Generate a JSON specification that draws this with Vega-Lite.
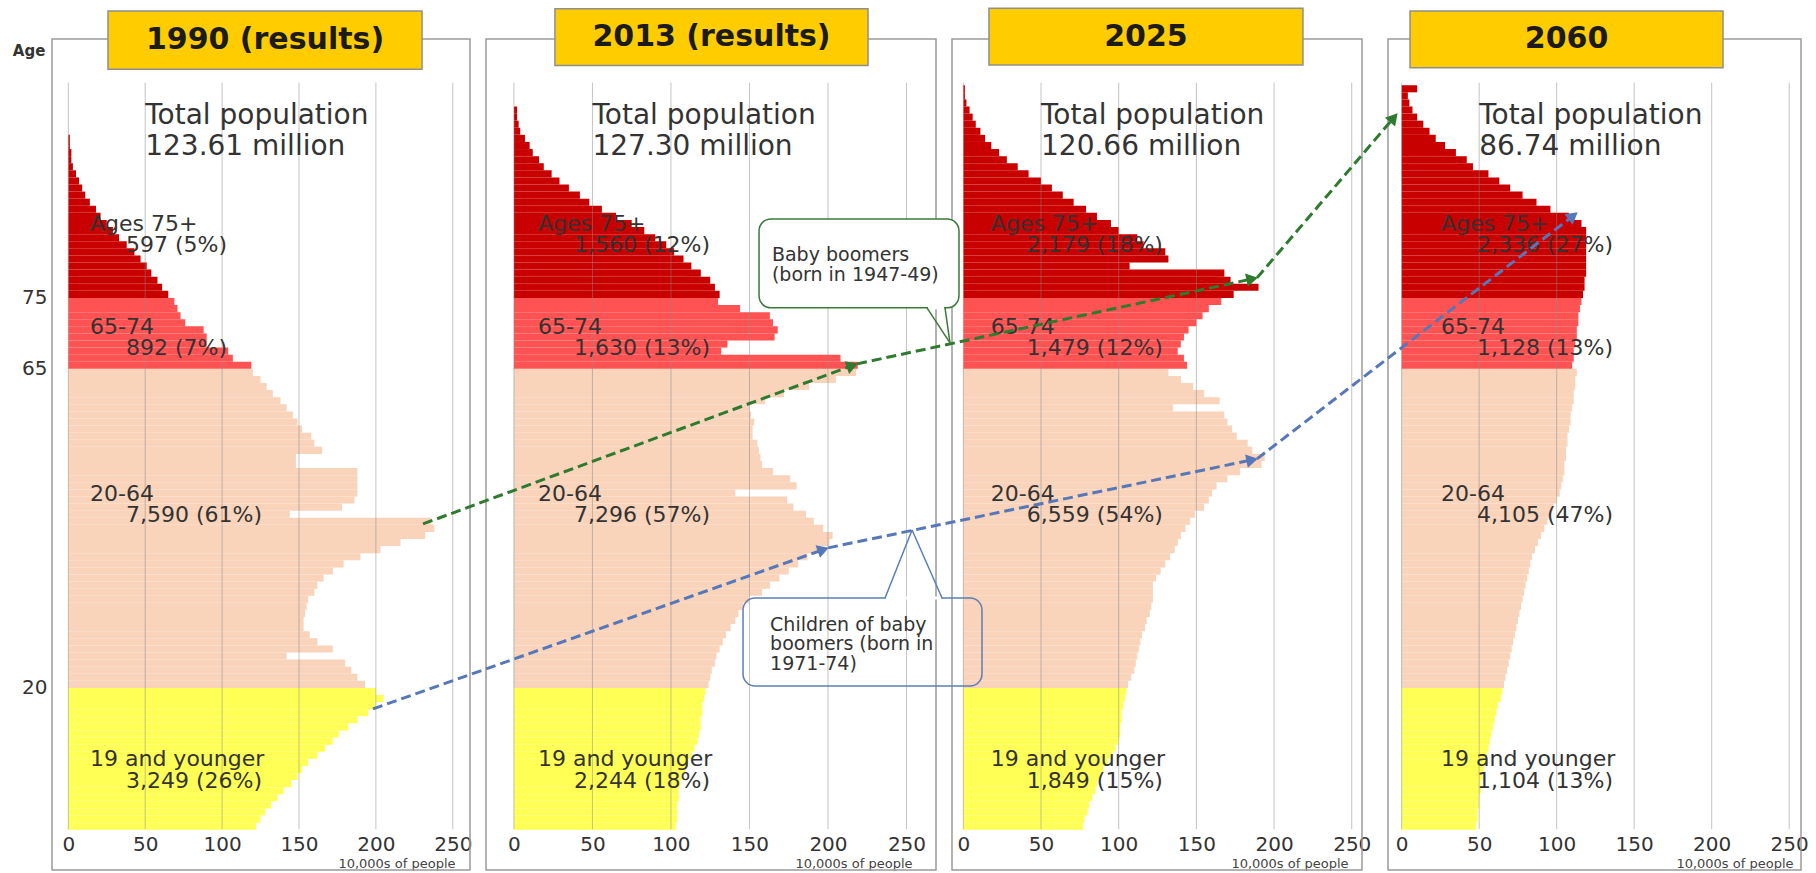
{
"$schema":"https://vega.github.io/schema/vega-lite/v6.json",
"background":"white",
"padding":{"left":12,"top":7,"right":4,"bottom":2},
"config":{"font":"DejaVu Sans","view":{"stroke":null},"axisY":{"labels":false,"ticks":false,"domain":false,"grid":false,"title":null},"axisX":{"grid":false,"ticks":false,"domain":false}},
"datasets":{
"d1990":[
{"age":0,"pop":122,"grp":"0-19"},{"age":1,"pop":125,"grp":"0-19"},{"age":2,"pop":128,"grp":"0-19"},{"age":3,"pop":132,"grp":"0-19"},{"age":4,"pop":136,"grp":"0-19"},{"age":5,"pop":140,"grp":"0-19"},{"age":6,"pop":145,"grp":"0-19"},{"age":7,"pop":149,"grp":"0-19"},{"age":8,"pop":152,"grp":"0-19"},{"age":9,"pop":156,"grp":"0-19"},{"age":10,"pop":162,"grp":"0-19"},{"age":11,"pop":167,"grp":"0-19"},{"age":12,"pop":172,"grp":"0-19"},{"age":13,"pop":176,"grp":"0-19"},{"age":14,"pop":182,"grp":"0-19"},{"age":15,"pop":188,"grp":"0-19"},{"age":16,"pop":195,"grp":"0-19"},{"age":17,"pop":200,"grp":"0-19"},{"age":18,"pop":205,"grp":"0-19"},{"age":19,"pop":200,"grp":"0-19"},
{"age":20,"pop":193,"grp":"20-64"},{"age":21,"pop":188,"grp":"20-64"},{"age":22,"pop":184,"grp":"20-64"},{"age":23,"pop":180,"grp":"20-64"},{"age":24,"pop":142,"grp":"20-64"},{"age":25,"pop":172,"grp":"20-64"},{"age":26,"pop":162,"grp":"20-64"},{"age":27,"pop":157,"grp":"20-64"},{"age":28,"pop":153,"grp":"20-64"},{"age":29,"pop":153,"grp":"20-64"},{"age":30,"pop":154,"grp":"20-64"},{"age":31,"pop":155,"grp":"20-64"},{"age":32,"pop":156,"grp":"20-64"},{"age":33,"pop":160,"grp":"20-64"},{"age":34,"pop":162,"grp":"20-64"},{"age":35,"pop":166,"grp":"20-64"},{"age":36,"pop":172,"grp":"20-64"},{"age":37,"pop":179,"grp":"20-64"},{"age":38,"pop":190,"grp":"20-64"},{"age":39,"pop":203,"grp":"20-64"},{"age":40,"pop":216,"grp":"20-64"},{"age":41,"pop":232,"grp":"20-64"},{"age":42,"pop":238,"grp":"20-64"},{"age":43,"pop":236,"grp":"20-64"},{"age":44,"pop":144,"grp":"20-64"},{"age":45,"pop":178,"grp":"20-64"},{"age":46,"pop":186,"grp":"20-64"},{"age":47,"pop":188,"grp":"20-64"},{"age":48,"pop":188,"grp":"20-64"},{"age":49,"pop":188,"grp":"20-64"},{"age":50,"pop":188,"grp":"20-64"},{"age":51,"pop":148,"grp":"20-64"},{"age":52,"pop":148,"grp":"20-64"},{"age":53,"pop":165,"grp":"20-64"},{"age":54,"pop":160,"grp":"20-64"},{"age":55,"pop":158,"grp":"20-64"},{"age":56,"pop":152,"grp":"20-64"},{"age":57,"pop":149,"grp":"20-64"},{"age":58,"pop":146,"grp":"20-64"},{"age":59,"pop":142,"grp":"20-64"},{"age":60,"pop":138,"grp":"20-64"},{"age":61,"pop":133,"grp":"20-64"},{"age":62,"pop":129,"grp":"20-64"},{"age":63,"pop":125,"grp":"20-64"},{"age":64,"pop":120,"grp":"20-64"},
{"age":65,"pop":119,"grp":"65-74"},{"age":66,"pop":107,"grp":"65-74"},{"age":67,"pop":104,"grp":"65-74"},{"age":68,"pop":90,"grp":"65-74"},{"age":69,"pop":90,"grp":"65-74"},{"age":70,"pop":88,"grp":"65-74"},{"age":71,"pop":76,"grp":"65-74"},{"age":72,"pop":73,"grp":"65-74"},{"age":73,"pop":71,"grp":"65-74"},{"age":74,"pop":69,"grp":"65-74"},
{"age":75,"pop":65,"grp":"75+"},{"age":76,"pop":61,"grp":"75+"},{"age":77,"pop":58,"grp":"75+"},{"age":78,"pop":54,"grp":"75+"},{"age":79,"pop":51,"grp":"75+"},{"age":80,"pop":47,"grp":"75+"},{"age":81,"pop":43,"grp":"75+"},{"age":82,"pop":38,"grp":"75+"},{"age":83,"pop":33,"grp":"75+"},{"age":84,"pop":29,"grp":"75+"},{"age":85,"pop":25,"grp":"75+"},{"age":86,"pop":21,"grp":"75+"},{"age":87,"pop":18,"grp":"75+"},{"age":88,"pop":14,"grp":"75+"},{"age":89,"pop":11,"grp":"75+"},{"age":90,"pop":9,"grp":"75+"},{"age":91,"pop":7,"grp":"75+"},{"age":92,"pop":5,"grp":"75+"},{"age":93,"pop":3,"grp":"75+"},{"age":94,"pop":2,"grp":"75+"},{"age":95,"pop":2,"grp":"75+"},{"age":96,"pop":1,"grp":"75+"},{"age":97,"pop":1,"grp":"75+"}
],
"d2013":[
{"age":0,"pop":103,"grp":"0-19"},{"age":1,"pop":104,"grp":"0-19"},{"age":2,"pop":104,"grp":"0-19"},{"age":3,"pop":104,"grp":"0-19"},{"age":4,"pop":105,"grp":"0-19"},{"age":5,"pop":105,"grp":"0-19"},{"age":6,"pop":106,"grp":"0-19"},{"age":7,"pop":107,"grp":"0-19"},{"age":8,"pop":109,"grp":"0-19"},{"age":9,"pop":111,"grp":"0-19"},{"age":10,"pop":113,"grp":"0-19"},{"age":11,"pop":115,"grp":"0-19"},{"age":12,"pop":117,"grp":"0-19"},{"age":13,"pop":118,"grp":"0-19"},{"age":14,"pop":119,"grp":"0-19"},{"age":15,"pop":119,"grp":"0-19"},{"age":16,"pop":120,"grp":"0-19"},{"age":17,"pop":120,"grp":"0-19"},{"age":18,"pop":121,"grp":"0-19"},{"age":19,"pop":122,"grp":"0-19"},
{"age":20,"pop":124,"grp":"20-64"},{"age":21,"pop":125,"grp":"20-64"},{"age":22,"pop":126,"grp":"20-64"},{"age":23,"pop":128,"grp":"20-64"},{"age":24,"pop":129,"grp":"20-64"},{"age":25,"pop":131,"grp":"20-64"},{"age":26,"pop":133,"grp":"20-64"},{"age":27,"pop":135,"grp":"20-64"},{"age":28,"pop":138,"grp":"20-64"},{"age":29,"pop":141,"grp":"20-64"},{"age":30,"pop":143,"grp":"20-64"},{"age":31,"pop":146,"grp":"20-64"},{"age":32,"pop":150,"grp":"20-64"},{"age":33,"pop":158,"grp":"20-64"},{"age":34,"pop":163,"grp":"20-64"},{"age":35,"pop":169,"grp":"20-64"},{"age":36,"pop":175,"grp":"20-64"},{"age":37,"pop":181,"grp":"20-64"},{"age":38,"pop":187,"grp":"20-64"},{"age":39,"pop":195,"grp":"20-64"},{"age":40,"pop":201,"grp":"20-64"},{"age":41,"pop":203,"grp":"20-64"},{"age":42,"pop":197,"grp":"20-64"},{"age":43,"pop":191,"grp":"20-64"},{"age":44,"pop":186,"grp":"20-64"},{"age":45,"pop":178,"grp":"20-64"},{"age":46,"pop":174,"grp":"20-64"},{"age":47,"pop":141,"grp":"20-64"},{"age":48,"pop":180,"grp":"20-64"},{"age":49,"pop":176,"grp":"20-64"},{"age":50,"pop":165,"grp":"20-64"},{"age":51,"pop":158,"grp":"20-64"},{"age":52,"pop":157,"grp":"20-64"},{"age":53,"pop":156,"grp":"20-64"},{"age":54,"pop":155,"grp":"20-64"},{"age":55,"pop":152,"grp":"20-64"},{"age":56,"pop":152,"grp":"20-64"},{"age":57,"pop":153,"grp":"20-64"},{"age":58,"pop":151,"grp":"20-64"},{"age":59,"pop":150,"grp":"20-64"},{"age":60,"pop":160,"grp":"20-64"},{"age":61,"pop":172,"grp":"20-64"},{"age":62,"pop":188,"grp":"20-64"},{"age":63,"pop":205,"grp":"20-64"},{"age":64,"pop":218,"grp":"20-64"},
{"age":65,"pop":219,"grp":"65-74"},{"age":66,"pop":208,"grp":"65-74"},{"age":67,"pop":132,"grp":"65-74"},{"age":68,"pop":136,"grp":"65-74"},{"age":69,"pop":166,"grp":"65-74"},{"age":70,"pop":168,"grp":"65-74"},{"age":71,"pop":165,"grp":"65-74"},{"age":72,"pop":163,"grp":"65-74"},{"age":73,"pop":144,"grp":"65-74"},{"age":74,"pop":130,"grp":"65-74"},
{"age":75,"pop":131,"grp":"75+"},{"age":76,"pop":128,"grp":"75+"},{"age":77,"pop":125,"grp":"75+"},{"age":78,"pop":119,"grp":"75+"},{"age":79,"pop":113,"grp":"75+"},{"age":80,"pop":108,"grp":"75+"},{"age":81,"pop":102,"grp":"75+"},{"age":82,"pop":97,"grp":"75+"},{"age":83,"pop":90,"grp":"75+"},{"age":84,"pop":83,"grp":"75+"},{"age":85,"pop":75,"grp":"75+"},{"age":86,"pop":65,"grp":"75+"},{"age":87,"pop":56,"grp":"75+"},{"age":88,"pop":48,"grp":"75+"},{"age":89,"pop":42,"grp":"75+"},{"age":90,"pop":35,"grp":"75+"},{"age":91,"pop":29,"grp":"75+"},{"age":92,"pop":24,"grp":"75+"},{"age":93,"pop":19,"grp":"75+"},{"age":94,"pop":16,"grp":"75+"},{"age":95,"pop":12,"grp":"75+"},{"age":96,"pop":10,"grp":"75+"},{"age":97,"pop":7,"grp":"75+"},{"age":98,"pop":4,"grp":"75+"},{"age":99,"pop":3,"grp":"75+"},{"age":100,"pop":2,"grp":"75+"},{"age":101,"pop":2,"grp":"75+"}
],
"d2025":[
{"age":0,"pop":77,"grp":"0-19"},{"age":1,"pop":78,"grp":"0-19"},{"age":2,"pop":80,"grp":"0-19"},{"age":3,"pop":81,"grp":"0-19"},{"age":4,"pop":83,"grp":"0-19"},{"age":5,"pop":85,"grp":"0-19"},{"age":6,"pop":86,"grp":"0-19"},{"age":7,"pop":88,"grp":"0-19"},{"age":8,"pop":90,"grp":"0-19"},{"age":9,"pop":93,"grp":"0-19"},{"age":10,"pop":96,"grp":"0-19"},{"age":11,"pop":98,"grp":"0-19"},{"age":12,"pop":100,"grp":"0-19"},{"age":13,"pop":101,"grp":"0-19"},{"age":14,"pop":101,"grp":"0-19"},{"age":15,"pop":102,"grp":"0-19"},{"age":16,"pop":102,"grp":"0-19"},{"age":17,"pop":103,"grp":"0-19"},{"age":18,"pop":104,"grp":"0-19"},{"age":19,"pop":105,"grp":"0-19"},
{"age":20,"pop":106,"grp":"20-64"},{"age":21,"pop":108,"grp":"20-64"},{"age":22,"pop":110,"grp":"20-64"},{"age":23,"pop":111,"grp":"20-64"},{"age":24,"pop":112,"grp":"20-64"},{"age":25,"pop":113,"grp":"20-64"},{"age":26,"pop":114,"grp":"20-64"},{"age":27,"pop":115,"grp":"20-64"},{"age":28,"pop":117,"grp":"20-64"},{"age":29,"pop":118,"grp":"20-64"},{"age":30,"pop":120,"grp":"20-64"},{"age":31,"pop":121,"grp":"20-64"},{"age":32,"pop":122,"grp":"20-64"},{"age":33,"pop":122,"grp":"20-64"},{"age":34,"pop":122,"grp":"20-64"},{"age":35,"pop":124,"grp":"20-64"},{"age":36,"pop":127,"grp":"20-64"},{"age":37,"pop":130,"grp":"20-64"},{"age":38,"pop":133,"grp":"20-64"},{"age":39,"pop":136,"grp":"20-64"},{"age":40,"pop":138,"grp":"20-64"},{"age":41,"pop":140,"grp":"20-64"},{"age":42,"pop":143,"grp":"20-64"},{"age":43,"pop":146,"grp":"20-64"},{"age":44,"pop":149,"grp":"20-64"},{"age":45,"pop":155,"grp":"20-64"},{"age":46,"pop":158,"grp":"20-64"},{"age":47,"pop":160,"grp":"20-64"},{"age":48,"pop":163,"grp":"20-64"},{"age":49,"pop":170,"grp":"20-64"},{"age":50,"pop":178,"grp":"20-64"},{"age":51,"pop":192,"grp":"20-64"},{"age":52,"pop":194,"grp":"20-64"},{"age":53,"pop":186,"grp":"20-64"},{"age":54,"pop":183,"grp":"20-64"},{"age":55,"pop":176,"grp":"20-64"},{"age":56,"pop":173,"grp":"20-64"},{"age":57,"pop":170,"grp":"20-64"},{"age":58,"pop":168,"grp":"20-64"},{"age":59,"pop":135,"grp":"20-64"},{"age":60,"pop":165,"grp":"20-64"},{"age":61,"pop":155,"grp":"20-64"},{"age":62,"pop":148,"grp":"20-64"},{"age":63,"pop":140,"grp":"20-64"},{"age":64,"pop":132,"grp":"20-64"},
{"age":65,"pop":144,"grp":"65-74"},{"age":66,"pop":142,"grp":"65-74"},{"age":67,"pop":138,"grp":"65-74"},{"age":68,"pop":140,"grp":"65-74"},{"age":69,"pop":142,"grp":"65-74"},{"age":70,"pop":145,"grp":"65-74"},{"age":71,"pop":150,"grp":"65-74"},{"age":72,"pop":154,"grp":"65-74"},{"age":73,"pop":158,"grp":"65-74"},{"age":74,"pop":166,"grp":"65-74"},
{"age":75,"pop":174,"grp":"75+"},{"age":76,"pop":190,"grp":"75+"},{"age":77,"pop":172,"grp":"75+"},{"age":78,"pop":168,"grp":"75+"},{"age":79,"pop":107,"grp":"75+"},{"age":80,"pop":132,"grp":"75+"},{"age":81,"pop":130,"grp":"75+"},{"age":82,"pop":116,"grp":"75+"},{"age":83,"pop":112,"grp":"75+"},{"age":84,"pop":100,"grp":"75+"},{"age":85,"pop":95,"grp":"75+"},{"age":86,"pop":86,"grp":"75+"},{"age":87,"pop":79,"grp":"75+"},{"age":88,"pop":71,"grp":"75+"},{"age":89,"pop":64,"grp":"75+"},{"age":90,"pop":57,"grp":"75+"},{"age":91,"pop":50,"grp":"75+"},{"age":92,"pop":42,"grp":"75+"},{"age":93,"pop":35,"grp":"75+"},{"age":94,"pop":28,"grp":"75+"},{"age":95,"pop":23,"grp":"75+"},{"age":96,"pop":18,"grp":"75+"},{"age":97,"pop":14,"grp":"75+"},{"age":98,"pop":11,"grp":"75+"},{"age":99,"pop":8,"grp":"75+"},{"age":100,"pop":6,"grp":"75+"},{"age":101,"pop":4,"grp":"75+"},{"age":102,"pop":2,"grp":"75+"},{"age":103,"pop":1,"grp":"75+"},{"age":104,"pop":1,"grp":"75+"}
],
"d2060":[
{"age":0,"pop":48,"grp":"0-19"},{"age":1,"pop":49,"grp":"0-19"},{"age":2,"pop":49,"grp":"0-19"},{"age":3,"pop":50,"grp":"0-19"},{"age":4,"pop":50,"grp":"0-19"},{"age":5,"pop":51,"grp":"0-19"},{"age":6,"pop":51,"grp":"0-19"},{"age":7,"pop":52,"grp":"0-19"},{"age":8,"pop":53,"grp":"0-19"},{"age":9,"pop":54,"grp":"0-19"},{"age":10,"pop":55,"grp":"0-19"},{"age":11,"pop":56,"grp":"0-19"},{"age":12,"pop":57,"grp":"0-19"},{"age":13,"pop":58,"grp":"0-19"},{"age":14,"pop":59,"grp":"0-19"},{"age":15,"pop":60,"grp":"0-19"},{"age":16,"pop":61,"grp":"0-19"},{"age":17,"pop":62,"grp":"0-19"},{"age":18,"pop":64,"grp":"0-19"},{"age":19,"pop":65,"grp":"0-19"},
{"age":20,"pop":66,"grp":"20-64"},{"age":21,"pop":67,"grp":"20-64"},{"age":22,"pop":68,"grp":"20-64"},{"age":23,"pop":69,"grp":"20-64"},{"age":24,"pop":70,"grp":"20-64"},{"age":25,"pop":71,"grp":"20-64"},{"age":26,"pop":72,"grp":"20-64"},{"age":27,"pop":73,"grp":"20-64"},{"age":28,"pop":74,"grp":"20-64"},{"age":29,"pop":75,"grp":"20-64"},{"age":30,"pop":76,"grp":"20-64"},{"age":31,"pop":77,"grp":"20-64"},{"age":32,"pop":78,"grp":"20-64"},{"age":33,"pop":79,"grp":"20-64"},{"age":34,"pop":80,"grp":"20-64"},{"age":35,"pop":81,"grp":"20-64"},{"age":36,"pop":82,"grp":"20-64"},{"age":37,"pop":83,"grp":"20-64"},{"age":38,"pop":84,"grp":"20-64"},{"age":39,"pop":86,"grp":"20-64"},{"age":40,"pop":88,"grp":"20-64"},{"age":41,"pop":90,"grp":"20-64"},{"age":42,"pop":92,"grp":"20-64"},{"age":43,"pop":94,"grp":"20-64"},{"age":44,"pop":96,"grp":"20-64"},{"age":45,"pop":98,"grp":"20-64"},{"age":46,"pop":100,"grp":"20-64"},{"age":47,"pop":102,"grp":"20-64"},{"age":48,"pop":103,"grp":"20-64"},{"age":49,"pop":104,"grp":"20-64"},{"age":50,"pop":105,"grp":"20-64"},{"age":51,"pop":105,"grp":"20-64"},{"age":52,"pop":106,"grp":"20-64"},{"age":53,"pop":106,"grp":"20-64"},{"age":54,"pop":107,"grp":"20-64"},{"age":55,"pop":107,"grp":"20-64"},{"age":56,"pop":108,"grp":"20-64"},{"age":57,"pop":109,"grp":"20-64"},{"age":58,"pop":109,"grp":"20-64"},{"age":59,"pop":110,"grp":"20-64"},{"age":60,"pop":111,"grp":"20-64"},{"age":61,"pop":111,"grp":"20-64"},{"age":62,"pop":112,"grp":"20-64"},{"age":63,"pop":112,"grp":"20-64"},{"age":64,"pop":113,"grp":"20-64"},
{"age":65,"pop":110,"grp":"65-74"},{"age":66,"pop":111,"grp":"65-74"},{"age":67,"pop":111,"grp":"65-74"},{"age":68,"pop":112,"grp":"65-74"},{"age":69,"pop":113,"grp":"65-74"},{"age":70,"pop":113,"grp":"65-74"},{"age":71,"pop":114,"grp":"65-74"},{"age":72,"pop":114,"grp":"65-74"},{"age":73,"pop":115,"grp":"65-74"},{"age":74,"pop":116,"grp":"65-74"},
{"age":75,"pop":117,"grp":"75+"},{"age":76,"pop":118,"grp":"75+"},{"age":77,"pop":118,"grp":"75+"},{"age":78,"pop":119,"grp":"75+"},{"age":79,"pop":119,"grp":"75+"},{"age":80,"pop":119,"grp":"75+"},{"age":81,"pop":119,"grp":"75+"},{"age":82,"pop":119,"grp":"75+"},{"age":83,"pop":119,"grp":"75+"},{"age":84,"pop":119,"grp":"75+"},{"age":85,"pop":116,"grp":"75+"},{"age":86,"pop":108,"grp":"75+"},{"age":87,"pop":96,"grp":"75+"},{"age":88,"pop":87,"grp":"75+"},{"age":89,"pop":78,"grp":"75+"},{"age":90,"pop":70,"grp":"75+"},{"age":91,"pop":63,"grp":"75+"},{"age":92,"pop":56,"grp":"75+"},{"age":93,"pop":46,"grp":"75+"},{"age":94,"pop":42,"grp":"75+"},{"age":95,"pop":35,"grp":"75+"},{"age":96,"pop":28,"grp":"75+"},{"age":97,"pop":22,"grp":"75+"},{"age":98,"pop":18,"grp":"75+"},{"age":99,"pop":14,"grp":"75+"},{"age":100,"pop":10,"grp":"75+"},{"age":101,"pop":7,"grp":"75+"},{"age":102,"pop":5,"grp":"75+"},{"age":103,"pop":4,"grp":"75+"},{"age":104,"pop":10,"grp":"75+"}
],
"ticks":[{"tick":0},{"tick":50},{"tick":100},{"tick":150},{"tick":200},{"tick":250}]
},
"spacing":16,
"bounds":"flush",
"hconcat":[
{"width":418,"height":831,"layer":[
 {"data":{"values":[{}]},"mark":{"type":"rect","fill":"transparent","stroke":"#9a9a9a","strokeWidth":1.5},"encoding":{"x":{"datum":-10.6},"x2":{"datum":261.2},"y":{"datum":-5.75},"y2":{"datum":111.45}}},
 {"data":{"name":"d1990"},"mark":{"type":"bar","binSpacing":0},"encoding":{
  "y":{"field":"age","type":"quantitative","bin":{"step":1,"extent":[0,110]},"scale":{"domain":[-5.75,111.45],"nice":false,"zero":false},"axis":{"values":[20,65,75],"labels":true,"title":null,"labelFontSize":20,"labelPadding":5,"labelColor":"#333"}},
  "x":{"field":"pop","type":"quantitative","scale":{"domain":[-10.6,261.2],"nice":false,"zero":false},"axis":{"values":[0,50,100,150,200,250],"offset":-40,"labelFontSize":20,"labelColor":"#333","labelPadding":4,"labelFlush":false,"title":"10,000s of people","titleFontSize":13,"titleFontWeight":"normal","titleColor":"#444","titleAlign":"right","titleX":403,"titleY":37,"titleBaseline":"alphabetic"}},
  "color":{"field":"grp","type":"nominal","scale":{"domain":["75+","65-74","20-64","0-19"],"range":["#C80000","#FF5252","#F9D3BA","#FFFF55"]},"legend":null}}},
 {"data":{"name":"ticks"},"mark":{"type":"rule","color":"#8a8a8a","strokeWidth":1,"opacity":0.5},"encoding":{"x":{"field":"tick","type":"quantitative"},"y":{"datum":0},"y2":{"datum":105.3}}},
 {"data":{"values":[{}]},"mark":{"type":"text","align":"left","baseline":"alphabetic","fontSize":22,"color":"#333"},"encoding":{"x":{"datum":14.1},"y":{"datum":84.4},"text":{"value":"Ages 75+"}}},
 {"data":{"values":[{}]},"mark":{"type":"text","align":"left","baseline":"alphabetic","fontSize":22,"color":"#333","dx":36,"dy":21.5},"encoding":{"x":{"datum":14.1},"y":{"datum":84.4},"text":{"value":"597 (5%)"}}},
 {"data":{"values":[{}]},"mark":{"type":"text","align":"left","baseline":"alphabetic","fontSize":22,"color":"#333"},"encoding":{"x":{"datum":14.1},"y":{"datum":69.9},"text":{"value":"65-74"}}},
 {"data":{"values":[{}]},"mark":{"type":"text","align":"left","baseline":"alphabetic","fontSize":22,"color":"#333","dx":36,"dy":21.5},"encoding":{"x":{"datum":14.1},"y":{"datum":69.9},"text":{"value":"892 (7%)"}}},
 {"data":{"values":[{}]},"mark":{"type":"text","align":"left","baseline":"alphabetic","fontSize":22,"color":"#333"},"encoding":{"x":{"datum":14.1},"y":{"datum":46.3},"text":{"value":"20-64"}}},
 {"data":{"values":[{}]},"mark":{"type":"text","align":"left","baseline":"alphabetic","fontSize":22,"color":"#333","dx":36,"dy":21.5},"encoding":{"x":{"datum":14.1},"y":{"datum":46.3},"text":{"value":"7,590 (61%)"}}},
 {"data":{"values":[{}]},"mark":{"type":"text","align":"left","baseline":"alphabetic","fontSize":22,"color":"#333"},"encoding":{"x":{"datum":14.1},"y":{"datum":8.9},"text":{"value":"19 and younger"}}},
 {"data":{"values":[{}]},"mark":{"type":"text","align":"left","baseline":"alphabetic","fontSize":22,"color":"#333","dx":36,"dy":21.5},"encoding":{"x":{"datum":14.1},"y":{"datum":8.9},"text":{"value":"3,249 (26%)"}}},
 {"data":{"values":[{}]},"mark":{"type":"text","align":"left","baseline":"alphabetic","fontSize":28,"color":"#333","lineHeight":30.5},"encoding":{"x":{"datum":50},"y":{"datum":99.4},"text":{"value":["Total population","123.61 million"]}}},
 {"data":{"values":[{}]},"mark":{"type":"text","align":"center","baseline":"middle","fontSize":15,"fontWeight":"bold","color":"#333"},"encoding":{"x":{"datum":-25.5},"y":{"datum":109.8},"text":{"value":"Age"}}},
 {"data":{"values":[{}]},"mark":{"type":"rect","fill":"#FFCC00","stroke":"#8f8f8f","strokeWidth":1.5},"encoding":{"x":{"datum":25.8},"x2":{"datum":230},"y":{"datum":107.2},"y2":{"datum":115.4}}},
 {"data":{"values":[{}]},"mark":{"type":"text","align":"center","baseline":"middle","fontSize":30,"fontWeight":"bold","color":"#1b1b1b"},"encoding":{"x":{"datum":127.9},"y":{"datum":111.3},"text":{"value":"1990 (results)"}}}
]},
{"width":450,"height":831,"layer":[
 {"data":{"values":[{}]},"mark":{"type":"rect","fill":"transparent","stroke":"#9a9a9a","strokeWidth":1.5},"encoding":{"x":{"datum":-17.8},"x2":{"datum":268.8},"y":{"datum":-5.75},"y2":{"datum":111.45}}},
 {"data":{"name":"d2013"},"mark":{"type":"bar","binSpacing":0},"encoding":{
  "y":{"field":"age","type":"quantitative","bin":{"step":1,"extent":[0,110]},"scale":{"domain":[-5.75,111.45],"nice":false,"zero":false},"axis":{"title":null}},
  "x":{"field":"pop","type":"quantitative","scale":{"domain":[-17.8,268.8],"nice":false,"zero":false},"axis":{"values":[0,50,100,150,200,250],"offset":-40,"labelFontSize":20,"labelColor":"#333","labelPadding":4,"labelFlush":false,"title":"10,000s of people","titleFontSize":13,"titleFontWeight":"normal","titleColor":"#444","titleAlign":"right","titleX":426,"titleY":37,"titleBaseline":"alphabetic"}},
  "color":{"field":"grp","type":"nominal","scale":{"domain":["75+","65-74","20-64","0-19"],"range":["#C80000","#FF5252","#F9D3BA","#FFFF55"]},"legend":null}}},
 {"data":{"name":"ticks"},"mark":{"type":"rule","color":"#8a8a8a","strokeWidth":1,"opacity":0.5},"encoding":{"x":{"field":"tick","type":"quantitative"},"y":{"datum":0},"y2":{"datum":105.3}}},
 {"data":{"values":[{}]},"mark":{"type":"text","align":"left","baseline":"alphabetic","fontSize":22,"color":"#333"},"encoding":{"x":{"datum":15.3},"y":{"datum":84.4},"text":{"value":"Ages 75+"}}},
 {"data":{"values":[{}]},"mark":{"type":"text","align":"left","baseline":"alphabetic","fontSize":22,"color":"#333","dx":36,"dy":21.5},"encoding":{"x":{"datum":15.3},"y":{"datum":84.4},"text":{"value":"1,560 (12%)"}}},
 {"data":{"values":[{}]},"mark":{"type":"text","align":"left","baseline":"alphabetic","fontSize":22,"color":"#333"},"encoding":{"x":{"datum":15.3},"y":{"datum":69.9},"text":{"value":"65-74"}}},
 {"data":{"values":[{}]},"mark":{"type":"text","align":"left","baseline":"alphabetic","fontSize":22,"color":"#333","dx":36,"dy":21.5},"encoding":{"x":{"datum":15.3},"y":{"datum":69.9},"text":{"value":"1,630 (13%)"}}},
 {"data":{"values":[{}]},"mark":{"type":"text","align":"left","baseline":"alphabetic","fontSize":22,"color":"#333"},"encoding":{"x":{"datum":15.3},"y":{"datum":46.3},"text":{"value":"20-64"}}},
 {"data":{"values":[{}]},"mark":{"type":"text","align":"left","baseline":"alphabetic","fontSize":22,"color":"#333","dx":36,"dy":21.5},"encoding":{"x":{"datum":15.3},"y":{"datum":46.3},"text":{"value":"7,296 (57%)"}}},
 {"data":{"values":[{}]},"mark":{"type":"text","align":"left","baseline":"alphabetic","fontSize":22,"color":"#333"},"encoding":{"x":{"datum":15.3},"y":{"datum":8.9},"text":{"value":"19 and younger"}}},
 {"data":{"values":[{}]},"mark":{"type":"text","align":"left","baseline":"alphabetic","fontSize":22,"color":"#333","dx":36,"dy":21.5},"encoding":{"x":{"datum":15.3},"y":{"datum":8.9},"text":{"value":"2,244 (18%)"}}},
 {"data":{"values":[{}]},"mark":{"type":"text","align":"left","baseline":"alphabetic","fontSize":28,"color":"#333","lineHeight":30.5},"encoding":{"x":{"datum":50},"y":{"datum":99.4},"text":{"value":["Total population","127.30 million"]}}},
 {"data":{"values":[{}]},"mark":{"type":"rule","color":"#2E7B30","strokeWidth":3,"strokeDash":[10,5]},"encoding":{"x":{"datum":-57.9},"y":{"datum":43.06},"x2":{"datum":215.5},"y2":{"datum":65.39}}},
 {"data":{"values":[{}]},"mark":{"type":"rule","color":"#5677B9","strokeWidth":3,"strokeDash":[10,5]},"encoding":{"x":{"datum":-89.8},"y":{"datum":16.97},"x2":{"datum":197.0},"y2":{"datum":39.44}}},
 {"data":{"values":[{}]},"mark":{"type":"point","shape":"triangle-up","filled":true,"size":180,"angle":70,"color":"#2E7B30","opacity":1},"encoding":{"x":{"datum":215.5},"y":{"datum":65.39}}},
 {"data":{"values":[{}]},"mark":{"type":"point","shape":"triangle-up","filled":true,"size":180,"angle":70.5,"color":"#5677B9","opacity":1},"encoding":{"x":{"datum":197.0},"y":{"datum":39.44}}},
 {"data":{"values":[{}]},"mark":{"type":"rect","fill":"#FFCC00","stroke":"#8f8f8f","strokeWidth":1.5},"encoding":{"x":{"datum":26.1},"x2":{"datum":225.5},"y":{"datum":107.7},"y2":{"datum":115.7}}},
 {"data":{"values":[{}]},"mark":{"type":"text","align":"center","baseline":"middle","fontSize":30,"fontWeight":"bold","color":"#1b1b1b"},"encoding":{"x":{"datum":125.8},"y":{"datum":111.7},"text":{"value":"2013 (results)"}}}
]},
{"width":410,"height":831,"layer":[
 {"data":{"values":[{}]},"mark":{"type":"rect","fill":"transparent","stroke":"#9a9a9a","strokeWidth":1.5},"encoding":{"x":{"datum":-7.3},"x2":{"datum":256.6},"y":{"datum":-5.75},"y2":{"datum":111.45}}},
 {"data":{"name":"d2025"},"mark":{"type":"bar","binSpacing":0},"encoding":{
  "y":{"field":"age","type":"quantitative","bin":{"step":1,"extent":[0,110]},"scale":{"domain":[-5.75,111.45],"nice":false,"zero":false},"axis":{"title":null}},
  "x":{"field":"pop","type":"quantitative","scale":{"domain":[-7.3,256.6],"nice":false,"zero":false},"axis":{"values":[0,50,100,150,200,250],"offset":-40,"labelFontSize":20,"labelColor":"#333","labelPadding":4,"labelFlush":false,"title":"10,000s of people","titleFontSize":13,"titleFontWeight":"normal","titleColor":"#444","titleAlign":"right","titleX":396,"titleY":37,"titleBaseline":"alphabetic"}},
  "color":{"field":"grp","type":"nominal","scale":{"domain":["75+","65-74","20-64","0-19"],"range":["#C80000","#FF5252","#F9D3BA","#FFFF55"]},"legend":null}}},
 {"data":{"name":"ticks"},"mark":{"type":"rule","color":"#8a8a8a","strokeWidth":1,"opacity":0.5},"encoding":{"x":{"field":"tick","type":"quantitative"},"y":{"datum":0},"y2":{"datum":105.3}}},
 {"data":{"values":[{}]},"mark":{"type":"text","align":"left","baseline":"alphabetic","fontSize":22,"color":"#333"},"encoding":{"x":{"datum":17.7},"y":{"datum":84.4},"text":{"value":"Ages 75+"}}},
 {"data":{"values":[{}]},"mark":{"type":"text","align":"left","baseline":"alphabetic","fontSize":22,"color":"#333","dx":36,"dy":21.5},"encoding":{"x":{"datum":17.7},"y":{"datum":84.4},"text":{"value":"2,179 (18%)"}}},
 {"data":{"values":[{}]},"mark":{"type":"text","align":"left","baseline":"alphabetic","fontSize":22,"color":"#333"},"encoding":{"x":{"datum":17.7},"y":{"datum":69.9},"text":{"value":"65-74"}}},
 {"data":{"values":[{}]},"mark":{"type":"text","align":"left","baseline":"alphabetic","fontSize":22,"color":"#333","dx":36,"dy":21.5},"encoding":{"x":{"datum":17.7},"y":{"datum":69.9},"text":{"value":"1,479 (12%)"}}},
 {"data":{"values":[{}]},"mark":{"type":"text","align":"left","baseline":"alphabetic","fontSize":22,"color":"#333"},"encoding":{"x":{"datum":17.7},"y":{"datum":46.3},"text":{"value":"20-64"}}},
 {"data":{"values":[{}]},"mark":{"type":"text","align":"left","baseline":"alphabetic","fontSize":22,"color":"#333","dx":36,"dy":21.5},"encoding":{"x":{"datum":17.7},"y":{"datum":46.3},"text":{"value":"6,559 (54%)"}}},
 {"data":{"values":[{}]},"mark":{"type":"text","align":"left","baseline":"alphabetic","fontSize":22,"color":"#333"},"encoding":{"x":{"datum":17.7},"y":{"datum":8.9},"text":{"value":"19 and younger"}}},
 {"data":{"values":[{}]},"mark":{"type":"text","align":"left","baseline":"alphabetic","fontSize":22,"color":"#333","dx":36,"dy":21.5},"encoding":{"x":{"datum":17.7},"y":{"datum":8.9},"text":{"value":"1,849 (15%)"}}},
 {"data":{"values":[{}]},"mark":{"type":"text","align":"left","baseline":"alphabetic","fontSize":28,"color":"#333","lineHeight":30.5},"encoding":{"x":{"datum":50},"y":{"datum":99.4},"text":{"value":["Total population","120.66 million"]}}},
 {"data":{"values":[{}]},"mark":{"type":"rect","fill":"white","stroke":"#3B7A3B","strokeWidth":1.5,"cornerRadius":12},"encoding":{"x":{"datum":-131.5},"x2":{"datum":-2.8},"y":{"datum":73.53},"y2":{"datum":86.08}}},
 {"data":{"values":[{}]},"mark":{"type":"rule","color":"white","strokeWidth":3},"encoding":{"x":{"datum":-22.8},"y":{"datum":73.53},"x2":{"datum":-12.4},"y2":{"datum":73.53}}},
 {"data":{"values":[{}]},"mark":{"type":"rule","color":"#3B7A3B","strokeWidth":1.5},"encoding":{"x":{"datum":-23.4},"y":{"datum":73.53},"x2":{"datum":-8.6},"y2":{"datum":68.59}}},
 {"data":{"values":[{}]},"mark":{"type":"rule","color":"#3B7A3B","strokeWidth":1.5},"encoding":{"x":{"datum":-11.8},"y":{"datum":73.53},"x2":{"datum":-8.6},"y2":{"datum":68.59}}},
 {"data":{"values":[{}]},"mark":{"type":"text","align":"left","baseline":"alphabetic","fontSize":19,"color":"#333","lineHeight":20},"encoding":{"x":{"datum":-123.2},"y":{"datum":80.16},"text":{"value":["Baby boomers","(born in 1947-49)"]}}},
 {"data":{"values":[{}]},"mark":{"type":"rect","fill":"transparent","stroke":"#5B7FB8","strokeWidth":1.5,"cornerRadius":12},"encoding":{"x":{"datum":-141.8},"x2":{"datum":12.0},"y":{"datum":20.21},"y2":{"datum":32.62}}},
 {"data":{"values":[{}]},"mark":{"type":"rule","color":"white","strokeWidth":3},"encoding":{"x":{"datum":-49.8},"y":{"datum":32.62},"x2":{"datum":-14.3},"y2":{"datum":32.62}}},
 {"data":{"values":[{}]},"mark":{"type":"rule","color":"#5B7FB8","strokeWidth":1.5},"encoding":{"x":{"datum":-50.4},"y":{"datum":32.62},"x2":{"datum":-33.0},"y2":{"datum":42.2}}},
 {"data":{"values":[{}]},"mark":{"type":"rule","color":"#5B7FB8","strokeWidth":1.5},"encoding":{"x":{"datum":-13.7},"y":{"datum":32.62},"x2":{"datum":-33.0},"y2":{"datum":42.2}}},
 {"data":{"values":[{}]},"mark":{"type":"text","align":"left","baseline":"alphabetic","fontSize":19,"color":"#333","lineHeight":19.5},"encoding":{"x":{"datum":-124.4},"y":{"datum":27.97},"text":{"value":["Children of baby","boomers (born in","1971-74)"]}}},
 {"data":{"values":[{}]},"mark":{"type":"rule","color":"#2E7B30","strokeWidth":3,"strokeDash":[10,5]},"encoding":{"x":{"datum":-68.4},"y":{"datum":65.63},"x2":{"datum":185.9},"y2":{"datum":77.61}}},
 {"data":{"values":[{}]},"mark":{"type":"rule","color":"#5677B9","strokeWidth":3,"strokeDash":[10,5]},"encoding":{"x":{"datum":-87.1},"y":{"datum":39.68},"x2":{"datum":185.9},"y2":{"datum":52.09}}},
 {"data":{"values":[{}]},"mark":{"type":"point","shape":"triangle-up","filled":true,"size":180,"angle":78,"color":"#2E7B30","opacity":1},"encoding":{"x":{"datum":185.9},"y":{"datum":77.61}}},
 {"data":{"values":[{}]},"mark":{"type":"point","shape":"triangle-up","filled":true,"size":180,"angle":78.3,"color":"#5677B9","opacity":1},"encoding":{"x":{"datum":185.9},"y":{"datum":52.09}}},
 {"data":{"values":[{}]},"mark":{"type":"rect","fill":"#FFCC00","stroke":"#8f8f8f","strokeWidth":1.5},"encoding":{"x":{"datum":16.5},"x2":{"datum":218.6},"y":{"datum":107.8},"y2":{"datum":115.8}}},
 {"data":{"values":[{}]},"mark":{"type":"text","align":"center","baseline":"middle","fontSize":30,"fontWeight":"bold","color":"#1b1b1b"},"encoding":{"x":{"datum":117.55},"y":{"datum":111.8},"text":{"value":"2025"}}}
]},
{"width":423,"height":831,"layer":[
 {"data":{"values":[{}]},"mark":{"type":"rect","fill":"transparent","stroke":"#9a9a9a","strokeWidth":1.5},"encoding":{"x":{"datum":-8.8},"x2":{"datum":257.6},"y":{"datum":-5.75},"y2":{"datum":111.45}}},
 {"data":{"name":"d2060"},"mark":{"type":"bar","binSpacing":0},"encoding":{
  "y":{"field":"age","type":"quantitative","bin":{"step":1,"extent":[0,110]},"scale":{"domain":[-5.75,111.45],"nice":false,"zero":false},"axis":{"title":null}},
  "x":{"field":"pop","type":"quantitative","scale":{"domain":[-15.25,257.6],"nice":false,"zero":false},"axis":{"values":[0,50,100,150,200,250],"offset":-40,"labelFontSize":20,"labelColor":"#333","labelPadding":4,"labelFlush":false,"title":"10,000s of people","titleFontSize":13,"titleFontWeight":"normal","titleColor":"#444","titleAlign":"right","titleX":415,"titleY":37,"titleBaseline":"alphabetic"}},
  "color":{"field":"grp","type":"nominal","scale":{"domain":["75+","65-74","20-64","0-19"],"range":["#C80000","#FF5252","#F9D3BA","#FFFF55"]},"legend":null}}},
 {"data":{"name":"ticks"},"mark":{"type":"rule","color":"#8a8a8a","strokeWidth":1,"opacity":0.5},"encoding":{"x":{"field":"tick","type":"quantitative"},"y":{"datum":0},"y2":{"datum":105.3}}},
 {"data":{"values":[{}]},"mark":{"type":"text","align":"left","baseline":"alphabetic","fontSize":22,"color":"#333"},"encoding":{"x":{"datum":25.4},"y":{"datum":84.4},"text":{"value":"Ages 75+"}}},
 {"data":{"values":[{}]},"mark":{"type":"text","align":"left","baseline":"alphabetic","fontSize":22,"color":"#333","dx":36,"dy":21.5},"encoding":{"x":{"datum":25.4},"y":{"datum":84.4},"text":{"value":"2,336 (27%)"}}},
 {"data":{"values":[{}]},"mark":{"type":"text","align":"left","baseline":"alphabetic","fontSize":22,"color":"#333"},"encoding":{"x":{"datum":25.4},"y":{"datum":69.9},"text":{"value":"65-74"}}},
 {"data":{"values":[{}]},"mark":{"type":"text","align":"left","baseline":"alphabetic","fontSize":22,"color":"#333","dx":36,"dy":21.5},"encoding":{"x":{"datum":25.4},"y":{"datum":69.9},"text":{"value":"1,128 (13%)"}}},
 {"data":{"values":[{}]},"mark":{"type":"text","align":"left","baseline":"alphabetic","fontSize":22,"color":"#333"},"encoding":{"x":{"datum":25.4},"y":{"datum":46.3},"text":{"value":"20-64"}}},
 {"data":{"values":[{}]},"mark":{"type":"text","align":"left","baseline":"alphabetic","fontSize":22,"color":"#333","dx":36,"dy":21.5},"encoding":{"x":{"datum":25.4},"y":{"datum":46.3},"text":{"value":"4,105 (47%)"}}},
 {"data":{"values":[{}]},"mark":{"type":"text","align":"left","baseline":"alphabetic","fontSize":22,"color":"#333"},"encoding":{"x":{"datum":25.4},"y":{"datum":8.9},"text":{"value":"19 and younger"}}},
 {"data":{"values":[{}]},"mark":{"type":"text","align":"left","baseline":"alphabetic","fontSize":22,"color":"#333","dx":36,"dy":21.5},"encoding":{"x":{"datum":25.4},"y":{"datum":8.9},"text":{"value":"1,104 (13%)"}}},
 {"data":{"values":[{}]},"mark":{"type":"text","align":"left","baseline":"alphabetic","fontSize":28,"color":"#333","lineHeight":30.5},"encoding":{"x":{"datum":50},"y":{"datum":99.4},"text":{"value":["Total population","86.74 million"]}}},
 {"data":{"values":[{}]},"mark":{"type":"rule","color":"#2E7B30","strokeWidth":3,"strokeDash":[10,5]},"encoding":{"x":{"datum":-93.3},"y":{"datum":77.76},"x2":{"datum":-5.06},"y2":{"datum":100.35}}},
 {"data":{"values":[{}]},"mark":{"type":"rule","color":"#5677B9","strokeWidth":3,"strokeDash":[10,5]},"encoding":{"x":{"datum":-93.3},"y":{"datum":52.23},"x2":{"datum":110.6},"y2":{"datum":86.5}}},
 {"data":{"values":[{}]},"mark":{"type":"point","shape":"triangle-up","filled":true,"size":180,"angle":40.5,"color":"#2E7B30","opacity":1},"encoding":{"x":{"datum":-5.06},"y":{"datum":100.35}}},
 {"data":{"values":[{}]},"mark":{"type":"point","shape":"triangle-up","filled":true,"size":180,"angle":52.4,"color":"#5677B9","opacity":1},"encoding":{"x":{"datum":110.6},"y":{"datum":86.5}}},
 {"data":{"values":[{}]},"mark":{"type":"rect","fill":"#FFCC00","stroke":"#8f8f8f","strokeWidth":1.5},"encoding":{"x":{"datum":5.4},"x2":{"datum":207.3},"y":{"datum":107.4},"y2":{"datum":115.4}}},
 {"data":{"values":[{}]},"mark":{"type":"text","align":"center","baseline":"middle","fontSize":30,"fontWeight":"bold","color":"#1b1b1b"},"encoding":{"x":{"datum":106.35},"y":{"datum":111.4},"text":{"value":"2060"}}}
]}
]
}
